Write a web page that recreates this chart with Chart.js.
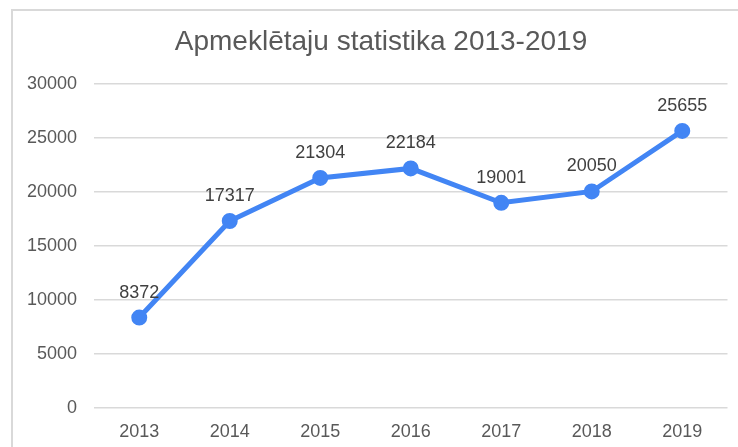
<!DOCTYPE html>
<html>
<head>
<meta charset="utf-8">
<script src="https://cdn.jsdelivr.net/npm/chart.js@4"></script>
<style>
  body { margin: 0; background: #fff; }
  #frame { position: absolute; left: 11px; top: 9px; width: 800px; height: 500px; border: 2px solid #d9d9d9; box-sizing: border-box; }
  #wrap { position: absolute; left: 0; top: 0; width: 738px; height: 447px; }
</style>
</head>
<body>
<div id="frame"></div>
<div id="wrap"><canvas id="visits"></canvas></div>
<script>
// Apmeklētāju skaits pa gadiem
const years = ['2013', '2014', '2015', '2016', '2017', '2018', '2019'];
const visitors = [8372, 17317, 21304, 22184, 19001, 20050, 25655];
const yTicks = [0, 5000, 10000, 15000, 20000, 25000, 30000];
const chartTitle = 'Apmeklētaju statistika 2013-2019';

const FONT = '"Liberation Sans", Arial, sans-serif';

// virsraksts centrēts pēc rāmja, nevis pēc kanvas
const frameTitle = {
  id: 'frameTitle',
  afterDraw(chart) {
    const ctx = chart.ctx;
    ctx.save();
    ctx.font = '28px ' + FONT;
    ctx.fillStyle = '#595959';
    ctx.textAlign = 'center';
    ctx.textBaseline = 'middle';
    ctx.fillText(chartTitle, 381, 42);
    ctx.restore();
  }
};

const valueLabels = {
  id: 'valueLabels',
  afterDatasetsDraw(chart) {
    const ctx = chart.ctx;
    const meta = chart.getDatasetMeta(0);
    ctx.save();
    ctx.font = '18px ' + FONT;
    ctx.fillStyle = '#404040';
    ctx.textAlign = 'center';
    ctx.textBaseline = 'middle';
    meta.data.forEach((pt, i) => {
      ctx.fillText(String(visitors[i]), pt.x, pt.y - 25);
    });
    ctx.restore();
  }
};

new Chart(document.getElementById('visits'), {
  type: 'line',
  data: {
    labels: years,
    datasets: [{
      label: 'Apmeklētāji',
      data: visitors,
      borderColor: '#4285f4',
      backgroundColor: '#4285f4',
      pointBackgroundColor: '#4285f4',
      pointBorderColor: '#4285f4',
      borderWidth: 5,
      pointRadius: 5.5,
      tension: 0,
      fill: false
    }]
  },
  options: {
    responsive: true,
    maintainAspectRatio: false,
    animation: false,
    layout: { padding: { left: 0, right: 9, top: 84, bottom: 0 } },
    plugins: {
      legend: { display: false },
      tooltip: { enabled: false },
      title: { display: false }
    },
    scales: {
      x: {
        offset: true,
        grid: { display: false, drawTicks: false },
        border: { display: false },
        ticks: { color: '#595959', padding: 13, font: { family: FONT, size: 18 } },
        afterFit(scale) { scale.height = 39; }
      },
      y: {
        min: 0,
        max: 30000,
        afterBuildTicks(scale) { scale.ticks = yTicks.map(v => ({ value: v })); },
        grid: { color: '#d9d9d9', lineWidth: 1.5, drawTicks: false },
        border: { display: false },
        ticks: {
          color: '#595959',
          padding: 17,
          font: { family: FONT, size: 18 },
          callback: v => String(v)
        },
        afterFit(scale) { scale.width = 94; }
      }
    }
  },
  plugins: [frameTitle, valueLabels]
});
</script>
</body>
</html>
